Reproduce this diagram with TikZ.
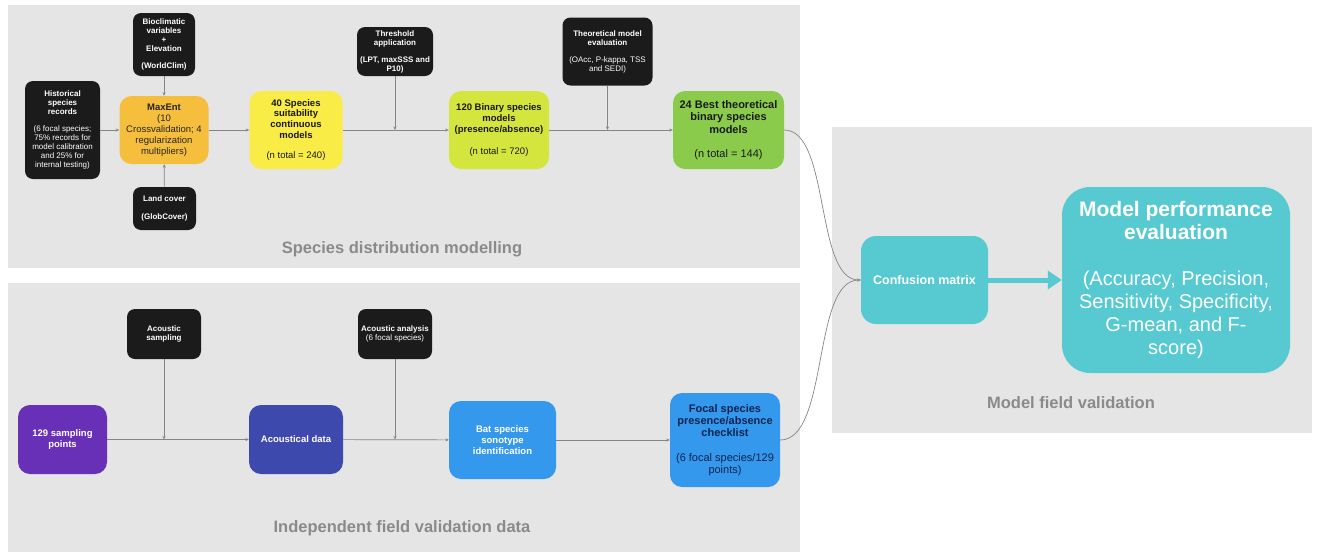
\documentclass[tikz,border=0pt]{standalone}
\usepackage{fontspec}
\setmainfont{Liberation Sans}
\usetikzlibrary{arrows.meta}

\definecolor{panelgray}{HTML}{E5E5E5}
\definecolor{labelgray}{HTML}{8A8A8A}
\definecolor{linegray}{HTML}{858585}
\definecolor{boxblack}{HTML}{1B1B1B}
\definecolor{maxorange}{HTML}{F6BE3D}
\definecolor{suityellow}{HTML}{F9EC47}
\definecolor{binlime}{HTML}{D4E53E}
\definecolor{bestgreen}{HTML}{8BCB4C}
\definecolor{ptspurple}{HTML}{6730B6}
\definecolor{dataindigo}{HTML}{3E49AE}
\definecolor{batblue}{HTML}{3498EC}
\definecolor{evalteal}{HTML}{56C9D1}
\definecolor{focalnavy}{HTML}{0E2352}

\newcommand\fs[2]{\fontsize{#1}{#2}\selectfont}
\newcommand\rg[1]{{\mdseries #1}}

\begin{document}
\begin{tikzpicture}[x=1pt,y=-1pt,
  darkbox/.style={fill=boxblack, text=white, rounded corners=8pt, align=center,
    inner sep=0pt, font=\bfseries\fs{8}{9}},
  colbox/.style={rounded corners=12pt, align=center, inner sep=0pt},
  flow/.style={draw=linegray, line width=0.7pt, -{Stealth[length=3.5pt,width=3pt]}},
  bigarrow/.style={draw=evalteal, line width=5pt, -{Triangle[length=14pt,width=18pt]}},
  panellabel/.style={text=labelgray, font=\bfseries\fs{16.5}{19}}]
\useasboundingbox (0,0) rectangle (1317,552);
 % panels:
\fill[panelgray] (8,5) rectangle (800,268);
\fill[panelgray] (8,283) rectangle (800,552);
\fill[panelgray] (832,127) rectangle (1312,433);
\node[panellabel] (sdmlabel) at (402,249) {Species distribution modelling};
\node[panellabel] (ifvlabel) at (402,528) {Independent field validation data};
\node[panellabel] (mfvlabel) at (1071,403) {Model field validation};

 % species distribution modelling:
\node[darkbox, minimum width=75pt, minimum height=98pt] (hist) at (62.5,130)
  {Historical\\species\\records\\[8pt]\rg{(6 focal species;}\\\rg{75\% records for}\\\rg{model calibration}\\\rg{and 25\% for}\\\rg{internal testing)}};
\node[darkbox, minimum width=62pt, minimum height=63pt] (bioclim) at (164,44.5)
  {Bioclimatic\\variables\\+\\Elevation\\[8pt](WorldClim)};
\node[colbox, fill=maxorange, text=black!85, minimum width=89pt, minimum height=68pt,
  font=\fs{9.5}{11}] (maxent) at (164,130)
  {\textbf{MaxEnt}\\(10\\Crossvalidation; 4\\regularization\\multipliers)};
\node[darkbox, minimum width=63pt, minimum height=43pt] (land) at (164.5,208.5)
  {Land cover\\[9pt](GlobCover)};
\node[colbox, fill=suityellow, text=black!90, minimum width=93pt, minimum height=78pt,
  font=\bfseries\fs{9.5}{10.7}] (suit) at (296,130)
  {40 Species\\suitability\\continuous\\models\\[10pt]\rg{(n total = 240)}};
\node[darkbox, minimum width=76pt, minimum height=49pt] (thresh) at (395,51.5)
  {Threshold\\application\\[8pt](LPT, maxSSS and\\P10)};
\node[colbox, fill=binlime, text=black!90, minimum width=100pt, minimum height=78pt,
  font=\bfseries\fs{9.5}{10.7}] (binary) at (499,130)
  {120 Binary species\\models\\(presence/absence)\\[11pt]\rg{(n total = 720)}};
\node[darkbox, minimum width=90pt, minimum height=68pt] (theval) at (607.5,51.5)
  {Theoretical model\\evaluation\\[8pt]\rg{(OAcc, P-kappa, TSS}\\\rg{and SEDI)}};
\node[colbox, fill=bestgreen, text=black!90, minimum width=111pt, minimum height=78pt,
  font=\bfseries\fs{11}{12.5}] (best) at (728.5,130)
  {24 Best theoretical\\binary species\\models\\[12pt]\rg{(n total = 144)}};

 % independent field validation data:
\node[darkbox, minimum width=74pt, minimum height=50pt] (acsamp) at (164,334)
  {Acoustic\\sampling};
\node[darkbox, minimum width=74pt, minimum height=50pt] (acanal) at (395,334)
  {Acoustic analysis\\\rg{(6 focal species)}};
\node[colbox, fill=ptspurple, text=white, minimum width=89pt, minimum height=69pt,
  font=\bfseries\fs{9.5}{10.7}] (points) at (62.5,439.5) {129 sampling\\points};
\node[colbox, fill=dataindigo, text=white, minimum width=94pt, minimum height=69pt,
  font=\bfseries\fs{9.5}{10.7}] (acdata) at (296,439.5) {Acoustical data};
\node[colbox, fill=batblue, text=white, minimum width=107pt, minimum height=78pt,
  font=\bfseries\fs{9.5}{10.7}] (batsp) at (502.5,440)
  {Bat species\\sonotype\\identification};
\node[colbox, fill=batblue, text=focalnavy, minimum width=110pt, minimum height=94pt,
  font=\bfseries\fs{11}{12.3}] (focal) at (725,440)
  {Focal species\\presence/absence\\checklist\\[12pt]\rg{(6 focal species/129}\\\rg{points)}};

 % model field validation:
\node[colbox, rounded corners=15pt, fill=evalteal, text=white, minimum width=127pt,
  minimum height=88pt, font=\bfseries\fs{12.5}{14}] (conf) at (924.5,280) {Confusion matrix};
\node[colbox, rounded corners=28pt, fill=evalteal, text=white, minimum width=228pt,
  minimum height=186pt, font=\fs{20}{23}] (perf) at (1176,280)
  {\textbf{\fs{21}{23}Model performance}\\\textbf{\fs{21}{23}evaluation}\\[23pt](Accuracy, Precision,\\Sensitivity, Specificity,\\G-mean, and F-\\score)};

 % connectors:
\draw[flow] (hist) -- (maxent);
\draw[flow] (bioclim) -- (maxent);
\draw[flow] (land) -- (maxent);
\draw[flow] (maxent) -- (suit);
\draw[flow] (suit) -- (binary);
\draw[flow] (thresh) -- (thresh |- suit);
\draw[flow] (binary) -- (best);
\draw[flow] (theval) -- (theval |- binary);
\draw[flow] (points) -- (acdata);
\draw[flow] (acsamp) -- (acsamp |- points);
\draw[flow] (acdata) -- (batsp);
\draw[flow] (acanal) -- (acanal |- acdata);
\draw[flow] (batsp) -- (focal);
\draw[flow] (best) to[out=0, in=180, looseness=0.7] (conf);
\draw[flow] (focal) to[out=0, in=180, looseness=0.7] (conf);
\draw[bigarrow] (conf) -- (perf);
\end{tikzpicture}
\end{document}
